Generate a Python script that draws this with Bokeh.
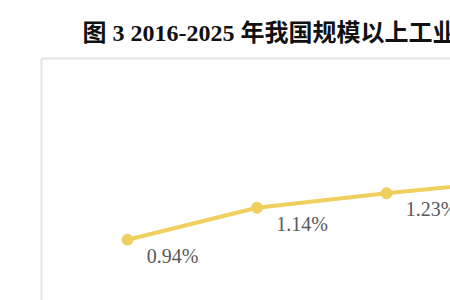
from bokeh.plotting import figure
from bokeh.models import ColumnDataSource, LinearAxis, Range1d, Title, LabelSet, FixedTicker
from bokeh.embed import file_html
from bokeh.resources import INLINE

years = [2016, 2017, 2018, 2019]
values = [0.94, 1.14, 1.23, 1.31]
labels = ["0.94%", "1.14%", "1.23%", "1.31%"]
title_text = "图 3 2016-2025 年我国规模以上工业"

source = ColumnDataSource(data=dict(x=years, y=values, label=labels))

p = figure(width=450, height=300, output_backend="svg", toolbar_location=None,
           x_range=Range1d(2015.336, 2018.494), y_range=Range1d(0.56, 2.073),
           min_border_left=41, min_border_top=58, min_border_right=0, min_border_bottom=0,
           x_axis_type=None, y_axis_type=None, background_fill_color="white",
           border_fill_color="white")
p.outline_line_color = None

frame_color = "#e4e4e4"
for side in ("left", "above"):
    ax = LinearAxis(axis_line_color=frame_color, axis_line_width=2,
                    ticker=FixedTicker(ticks=[]),
                    major_tick_line_color=None, minor_tick_line_color=None)
    p.add_layout(ax, side)

p.title = Title(text=title_text, align="left", offset=41,
                text_font_size="24px", text_font="Liberation Serif, Noto Sans CJK SC",
                text_font_style="bold", text_color="#111111", standoff=26)

line_color = "#EFCF5E"
p.line("x", "y", source=source, line_color=line_color, line_width=4)
p.scatter("x", "y", source=source, size=11, fill_color=line_color, line_color=line_color)

p.add_layout(LabelSet(x="x", y="y", text="label", source=source,
                      x_offset=45, y_offset=-16, text_align="center",
                      text_baseline="middle", text_font="Liberation Serif",
                      text_font_size="20px", text_color="#595959"))

open("out.html", "w").write(file_html(p, INLINE))
